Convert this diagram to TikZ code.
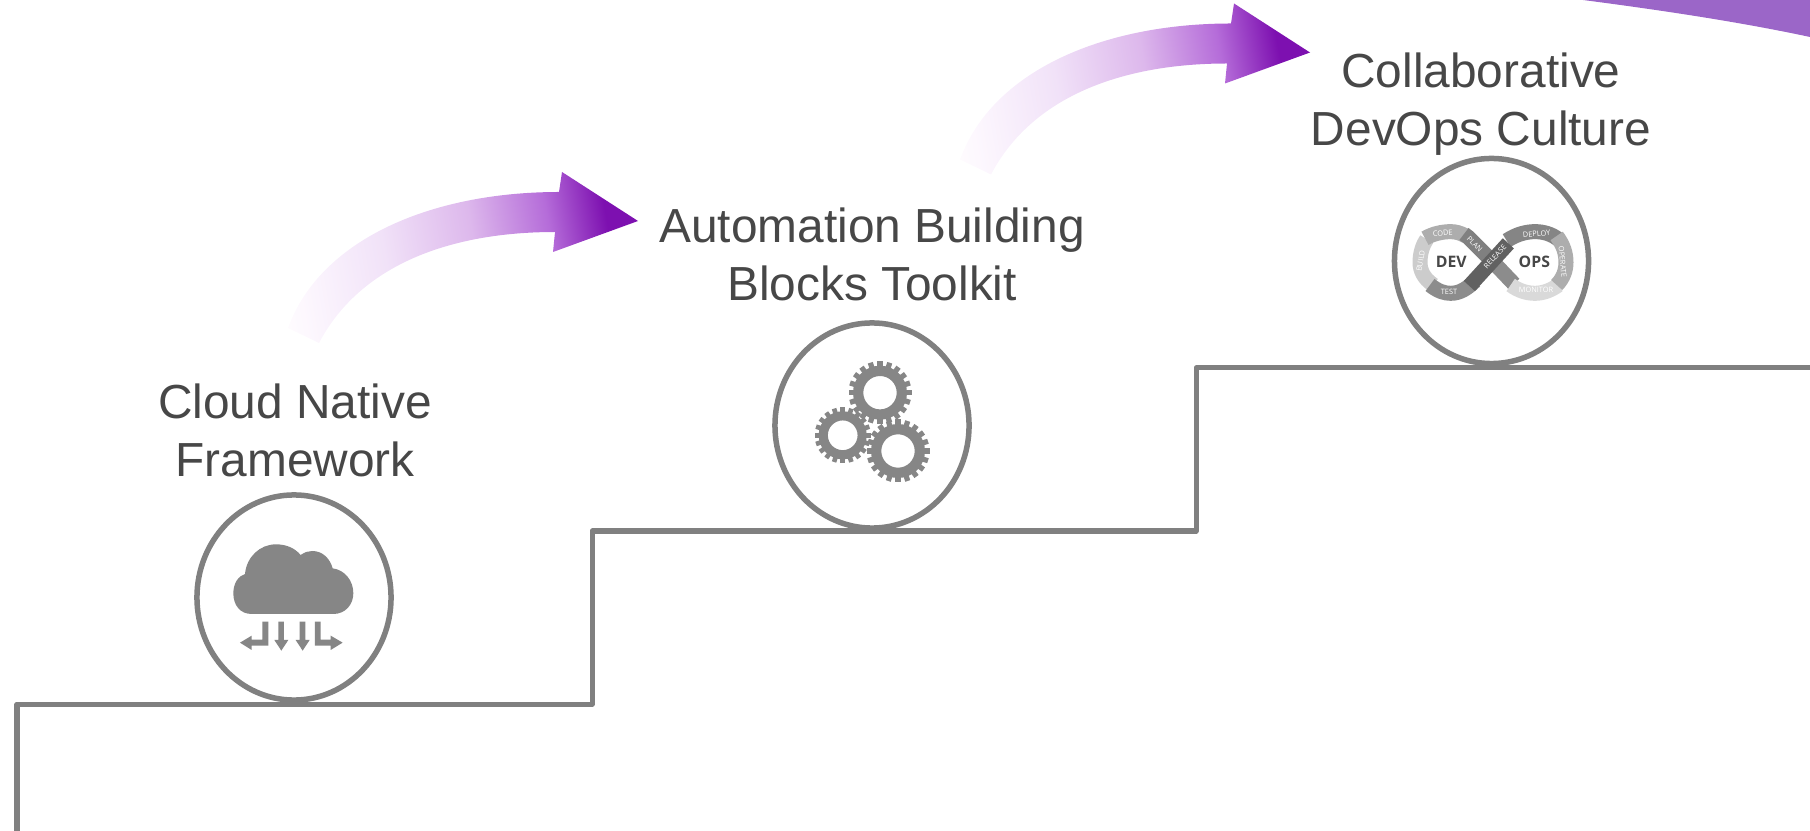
\documentclass[tikz,border=0pt]{standalone}
\usepackage{fontspec}
\setmainfont{Liberation Sans}
\newfontfamily\iconfont{Open Sans}
\usetikzlibrary{shapes.geometric}
\definecolor{stepgray}{HTML}{808080}
\definecolor{icongray}{HTML}{868686}
\definecolor{labelgray}{HTML}{474747}
\definecolor{risetail}{HTML}{FDF8FE}
\definecolor{riselight}{HTML}{F1E2F8}
\definecolor{risemid}{HTML}{DDB8EC}
\definecolor{risehead}{HTML}{B56CD9}
\definecolor{risetip}{HTML}{7D10B0}
\definecolor{riseband}{HTML}{9B66C8}
\pgfdeclarehorizontalshading{risefade}{100bp}{color(0bp)=(white);color(18bp)=(white);color(24bp)=(risetail);color(38bp)=(riselight);color(52bp)=(risemid);color(64bp)=(risehead);color(73bp)=(risetip);color(100bp)=(risetip)}
\tikzset{
stepline/.style={draw=stepgray,line width=0.05cm,line join=round},
stepring/.style={ellipse,draw=stepgray,line width=0.055cm,fill=white,inner sep=0pt,minimum width=1.94cm,minimum height=2.05cm},
steplabel/.style={text=labelgray,align=center,font=\fontsize{13.6}{16.5}\selectfont},
band/.style={line width=0.15cm},
bandtext/.style={text=white,font=\iconfont\fontsize{2.1}{2.5}\selectfont,inner sep=0pt},
looptext/.style={text=labelgray,font=\iconfont\bfseries\fontsize{4.5}{5}\selectfont,inner sep=0pt},
cog/.pic={
\fill[icongray,even odd rule] (0,0) circle (27) (0,0) circle (16.7);
\foreach \a in {0,18,...,342} {\fill[icongray,rotate=\a] (-2.6,-25) rectangle (2.6,-31.5);}
}
}
\begin{document}
\begin{tikzpicture}[x=0.01cm,y=-0.01cm]
\useasboundingbox (0,0) rectangle (1810,831);

\coordinate (s0) at (17,831);
\coordinate (s1) at (17,704);
\coordinate (s2) at (592,704);
\coordinate (s3) at (592,531);
\coordinate (s4) at (1196,531);
\coordinate (s5) at (1196,368);
\coordinate (s6) at (1810,368);
\draw[stepline] (s0)--(s1)--(s2)--(s3)--(s4)--(s5)--(s6);

\node[stepring] (cloudring) at (294,597.5) {};
\node[stepring] (gearring) at (872,425.5) {};
\node[stepring] (devopsring) at (1491.5,261) {};

\node[steplabel] (cloudlabel) at (295,430) {Cloud Native\\Framework};
\node[steplabel] (gearlabel) at (872,254) {Automation Building\\Blocks Toolkit};
\node[steplabel] (devopslabel) at (1481,104) {Collaborative\\DevOps Culture};

\foreach \dx/\dy in {0/0,672/-168.5} {
\shade[shading=risefade,shading angle=10,shift={(\dx,\dy)}] (288,328) .. controls (320,240) and (430,192) .. (559,192)--(562,172)--(638,221)--(553,252)--(555,232) .. controls (450,232) and (360,265) .. (319,343)--cycle;
}
\fill[riseband] (1583,0) .. controls (1660,10) and (1740,22) .. (1810,37)--(1810,0)--cycle;

\begin{scope}[shift={(190,490)},scale=0.3333]
\fill[icongray] (185,372) .. controls (150,372) and (130,345) .. (130,310) .. controls (130,280) and (145,258) .. (165,252) .. controls (170,200) and (210,163) .. (258,163) .. controls (290,163) and (315,175) .. (332,195) .. controls (345,186) and (355,183) .. (367,183) .. controls (397,183) and (420,205) .. (428,235) .. controls (465,240) and (490,272) .. (490,310) .. controls (490,345) and (465,372) .. (430,372)--cycle;
\fill[icongray] (217,395)--(235,395)--(235,467)--(185,467)--(185,480)--(150,458)--(185,437)--(185,449)--(217,449)--cycle;
\fill[icongray] (265,395)--(282,395)--(282,450)--(295,450)--(274,482)--(253,450)--(265,450)--cycle;
\fill[icongray] (329,395)--(346,395)--(346,450)--(359,450)--(338,482)--(317,450)--(329,450)--cycle;
\fill[icongray] (375,395)--(392,395)--(392,449)--(422,449)--(422,437)--(458,458)--(422,480)--(422,467)--(375,467)--cycle;
\end{scope}

\pic at (880,392.7) {cog};
\pic at (898,451) {cog};
\pic[scale=0.89] at (842.7,435.3) {cog};

\begin{scope}[shift={(1380,150)},scale=0.3333]
\draw[band,color=black!20] (160,405) .. controls (130,385) and (120,360) .. (120,337) .. controls (120,310) and (128,285) .. (140,268);
\draw[band,color=black!32] (135,265) .. controls (160,250) and (190,245) .. (212,245) .. controls (225,245) and (240,248) .. (258,258);
\draw[band,color=black!45] (150,405) .. controls (175,425) and (195,430) .. (212,430) .. controls (240,430) and (262,415) .. (285,393);
\draw[band,color=black!50] (252,252)--(265,262)--(340,337);
\draw[band,color=black!45] (340,337)--(402,402);
\draw[band,color=black!15] (392,405) .. controls (415,422) and (440,430) .. (465,430) .. controls (490,430) and (515,420) .. (535,405);
\draw[band,color=black!48] (380,272) .. controls (410,252) and (440,245) .. (465,245) .. controls (490,245) and (515,252) .. (535,268);
\draw[band,color=black!32] (530,258) .. controls (550,285) and (558,310) .. (558,337) .. controls (558,360) and (550,385) .. (530,405);
\draw[band,color=black!62] (268,408)--(385,280);
\node[bandtext,rotate=80] (buildtext) at (122,333) {BUILD};
\node[bandtext,rotate=5] (codetext) at (188,250) {CODE};
\node[bandtext] (testtext) at (207,425) {TEST};
\node[bandtext,rotate=-45] (plantext) at (284,282) {PLAN};
\node[bandtext,rotate=48] (releasetext) at (345,320) {RELEASE};
\node[bandtext,rotate=5] (deploytext) at (470,252) {DEPLOY};
\node[bandtext,rotate=-85] (operatetext) at (548,335) {OPERATE};
\node[bandtext] (monitortext) at (468,421) {MONITOR};
\node[looptext] (devtext) at (214,337) {DEV};
\node[looptext] (opstext) at (463,337) {OPS};
\end{scope}
\end{tikzpicture}
\end{document}
